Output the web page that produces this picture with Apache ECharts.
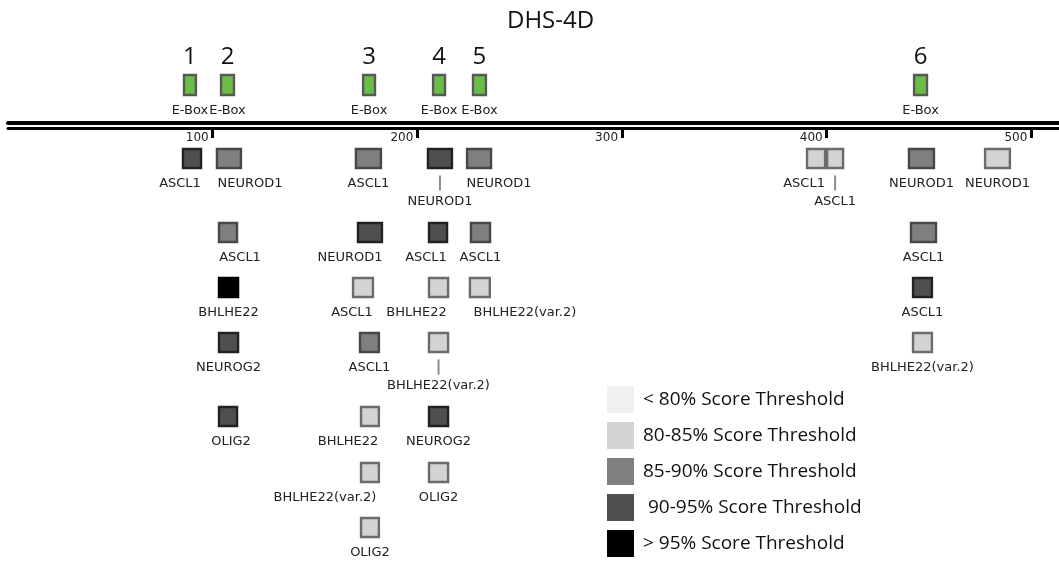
<!DOCTYPE html>
<html>
<head>
<meta charset="utf-8">
<script src="https://cdn.jsdelivr.net/npm/echarts@6/dist/echarts.min.js"></script>
<style>
html,body{margin:0;padding:0;background:#fff;}
#chart{width:1059px;height:565px;}
</style>
</head>
<body>
<div id="chart"></div>
<script>
// ---------------- DATA ----------------
const titleText = 'DHS-4D';
const tickValues = [100, 200, 300, 400, 500];

// E-Box sites (bp)
const eboxIds   = ['1', '2', '3', '4', '5', '6'];
const eboxStart = [85.5, 103.6, 173.0, 207.2, 226.7, 442.2];
const eboxEnd   = [92.3, 110.9, 179.8, 214.0, 234.0, 449.5];
const eboxName  = 'E-Box';

// Transcription-factor motif hits (bp), score class index, stacking lane
const tfName = [
  'ASCL1','NEUROD1','ASCL1','NEUROD1','NEUROD1','ASCL1','ASCL1','NEUROD1','NEUROD1',
  'ASCL1','NEUROD1','ASCL1','ASCL1','ASCL1',
  'BHLHE22','ASCL1','BHLHE22','BHLHE22(var.2)','ASCL1',
  'NEUROG2','ASCL1','BHLHE22(var.2)','BHLHE22(var.2)',
  'OLIG2','BHLHE22','NEUROG2',
  'BHLHE22(var.2)','OLIG2',
  'OLIG2'
];
const siteStart = [
  85.0, 101.6, 169.5, 204.7, 223.8, 389.9, 399.7, 439.7, 476.9,
  102.6, 170.5, 205.2, 225.7, 440.7,
  102.6, 168.1, 205.2, 225.2, 441.7,
  102.6, 171.5, 205.2, 441.7,
  102.6, 172.0, 205.2,
  172.0, 205.2,
  172.0
];
const siteEnd = [
  94.8, 114.3, 182.7, 217.4, 236.5, 399.7, 408.5, 452.9, 490.0,
  112.4, 183.2, 215.0, 236.0, 453.9,
  112.9, 178.8, 215.5, 235.9, 451.9,
  112.9, 181.7, 215.5, 451.9,
  112.4, 181.7, 215.5,
  181.7, 215.5,
  181.7
];
// 0: <80%, 1: 80-85%, 2: 85-90%, 3: 90-95%, 4: >95%
const scoreClass = [
  3, 2, 2, 3, 2, 1, 1, 2, 1,
  2, 3, 3, 2, 2,
  4, 1, 1, 1, 3,
  3, 2, 1, 1,
  3, 1, 3,
  1, 1,
  1
];
const lane = [
  0, 0, 0, 0, 0, 0, 0, 0, 0,
  1, 1, 1, 1, 1,
  2, 2, 2, 2, 2,
  3, 3, 3, 3,
  4, 4, 4,
  5, 5,
  6
];
const scoreClassNames = [
  '< 80% Score Threshold',
  '80-85% Score Threshold',
  '85-90% Score Threshold',
  ' 90-95% Score Threshold',
  '> 95% Score Threshold'
];

// ---------------- LAYOUT / STYLE ----------------
const laneLevel = [0, 1.345, 2.345, 3.345, 4.69, 5.71, 6.71];
const eboxLevel = -1.336;
const labelDx = [
  -12, 21, 0, 0, 20, -12, 0, 0, 0,
  12, -20, -12, 0, 0,
  0, -11, -22, 45, 0,
  0, 0, 0, 0,
  3, -22, 0,
  -45, 0,
  0
];
const labelDrop = [
  0, 0, 0, 1, 0, 0, 1, 0, 0,
  0, 0, 0, 0, 0,
  0, 0, 0, 0, 0,
  0, 0, 1, 0,
  0, 0, 0,
  0, 0,
  0
];
const classFill   = ['#f0f0f0', '#d3d3d3', '#7f7f7f', '#4f4f4f', '#000000'];
const classStroke = ['#c8c8c8', '#6b6b6b', '#474747', '#222222', '#000000'];
const labelFont = '"DejaVu Sans", sans-serif';
const bigFont = '"Open Sans", "Noto Sans", sans-serif';

// ---------------- BUILD ----------------
const chart = echarts.init(document.getElementById('chart'), null, {renderer: 'canvas'});

function motifSeries(ci) {
  const data = [];
  for (let i = 0; i < tfName.length; i++) {
    if (scoreClass[i] === ci) data.push([siteStart[i], siteEnd[i], laneLevel[lane[i]], i]);
  }
  return {
    type: 'custom',
    name: scoreClassNames[ci],
    xAxisIndex: 0,
    yAxisIndex: 0,
    itemStyle: {color: classFill[ci]},
    encode: {x: [0, 1], y: 2},
    data: data,
    renderItem: function (params, api) {
      const idx = api.value(3);
      const p0 = api.coord([api.value(0), api.value(2)]);
      const p1 = api.coord([api.value(1), api.value(2)]);
      const h = 21;
      const cx = (p0[0] + p1[0]) / 2;
      const cy = p0[1];
      const children = [{
        type: 'rect',
        shape: {x: p0[0] + 1, y: cy - h / 2 + 1, width: p1[0] - p0[0] - 2, height: h - 2},
        style: {fill: classFill[ci], stroke: classStroke[ci], lineWidth: 2.4}
      }];
      let ty = cy + 25;
      if (labelDrop[idx]) {
        children.push({
          type: 'line',
          shape: {x1: cx, y1: cy + 17, x2: cx, y2: cy + 32},
          style: {stroke: '#8c8c8c', lineWidth: 2}
        });
        ty = cy + 43.5;
      }
      children.push({
        type: 'text',
        style: {
          text: tfName[idx], x: cx + labelDx[idx], y: ty,
          align: 'center', verticalAlign: 'middle',
          fontSize: 13, fontFamily: labelFont, fill: '#222'
        }
      });
      return {type: 'group', children: children};
    }
  };
}

const eboxData = eboxIds.map((id, i) => [eboxStart[i], eboxEnd[i], eboxLevel, i]);

const series = [];
for (let c = 0; c < scoreClassNames.length; c++) series.push(motifSeries(c));
series.push({
  type: 'custom',
  name: eboxName,
  xAxisIndex: 0,
  yAxisIndex: 0,
  encode: {x: [0, 1], y: 2},
  data: eboxData,
  renderItem: function (params, api) {
    const idx = api.value(3);
    const p0 = api.coord([api.value(0), api.value(2)]);
    const p1 = api.coord([api.value(1), api.value(2)]);
    const h = 22;
    const cx = (p0[0] + p1[0]) / 2;
    const cy = p0[1];
    return {
      type: 'group',
      children: [
        {type: 'rect', shape: {x: p0[0] + 1, y: cy - h / 2 + 1, width: p1[0] - p0[0] - 2, height: h - 2},
         style: {fill: '#6abd45', stroke: '#585858', lineWidth: 2.4}},
        {type: 'text', style: {text: eboxIds[idx], x: cx, y: cy - 28, align: 'center', verticalAlign: 'middle',
          fontSize: 24, fontFamily: bigFont, fill: '#111'}},
        {type: 'text', style: {text: eboxName, x: cx, y: cy + 26, align: 'center', verticalAlign: 'middle',
          fontSize: 13, fontFamily: labelFont, fill: '#222'}}
      ]
    };
  }
});

const option = {
  backgroundColor: '#ffffff',
  animation: false,
  title: {
    text: titleText,
    left: 502,
    top: 4,
    textStyle: {fontFamily: bigFont, fontSize: 24, fontWeight: 'normal', color: '#111'}
  },
  legend: {
    orient: 'vertical',
    left: 607,
    top: 386,
    padding: 0,
    itemWidth: 27,
    itemHeight: 27,
    itemGap: 9,
    icon: 'rect',
    itemStyle: {borderWidth: 0},
    selectedMode: false,
    data: scoreClassNames,
    textStyle: {fontFamily: bigFont, fontSize: 19, color: '#111', padding: [0, 0, 0, 4]}
  },
  grid: {left: 8, right: 0, top: 128, bottom: 0, containLabel: false},
  xAxis: [
    {
      type: 'value', min: 0, max: 513.5, interval: 100,
      position: 'top',
      splitLine: {show: false},
      axisLine: {show: true, onZero: false, lineStyle: {color: '#000', width: 3}},
      axisTick: {show: true, inside: true, length: 10, customValues: tickValues,
        lineStyle: {color: '#000', width: 3}},
      axisLabel: {show: true, inside: true, customValues: tickValues, align: 'right', verticalAlign: 'top',
        margin: 4, padding: [0, 4, 0, 0], fontSize: 12, fontFamily: labelFont, color: '#222'}
    },
    {
      type: 'value', min: 0, max: 513.5, interval: 100,
      position: 'top', offset: 5.5,
      splitLine: {show: false},
      axisLine: {show: true, onZero: false, lineStyle: {color: '#000', width: 4}},
      axisTick: {show: false},
      axisLabel: {show: false}
    }
  ],
  yAxis: {
    type: 'value', min: -0.5545, max: 7.391, inverse: true, show: false,
    splitLine: {show: false}
  },
  series: series
};
chart.setOption(option);
</script>
</body>
</html>
